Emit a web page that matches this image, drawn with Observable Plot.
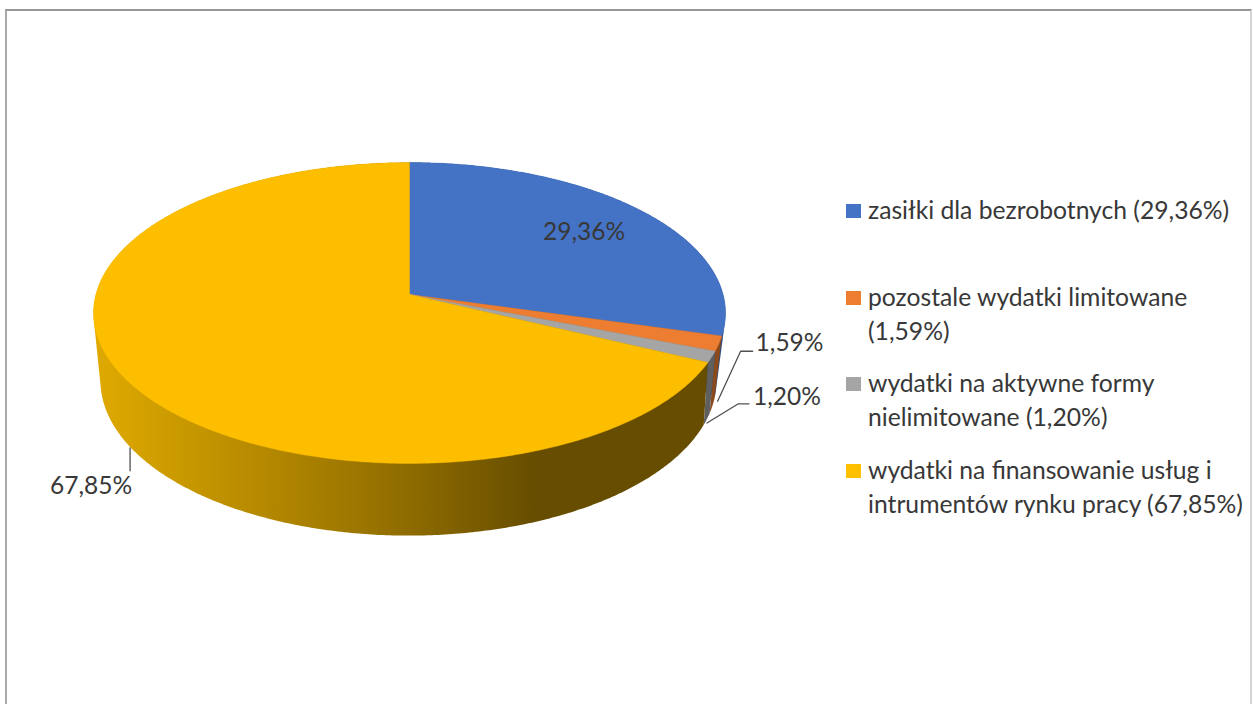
<!DOCTYPE html>
<html lang="pl">
<head>
<meta charset="utf-8">
<script src="https://cdn.jsdelivr.net/npm/d3@7"></script>
<script src="https://cdn.jsdelivr.net/npm/@observablehq/plot@0.6"></script>
<style>
  html, body { margin: 0; padding: 0; background: #fff; overflow: hidden; }
  #page { position: relative; width: 1253px; height: 704px; overflow: hidden; font-family: Lato, "Open Sans", sans-serif; }
  #frame { position: absolute; left: 5px; top: 9px; width: 1247px; height: 700px; box-sizing: border-box;
           border-left: 2px solid #a8a8a8; border-top: 2px solid #979797; border-right: 2px solid #d4d4d4; }
  #chart { position: absolute; left: 0; top: 0; }
  #chart svg { display: block; background: transparent; }
  #legend { position: absolute; left: 846px; top: 193px; width: 404px; color: #383838; font-size: 24.7px; line-height: 34px; }
  .item { display: flex; height: 86.67px; }
  .swatch { flex: none; width: 15px; height: 14px; margin: 11px 7px 0 0; }
  .name { width: 385px; }
</style>
</head>
<body>
<div id="page"><div id="frame"></div><div id="chart"></div><div id="legend"></div></div>
<script>
// ---- data ----
const categories = [
  "zasiłki dla bezrobotnych",
  "pozostale wydatki limitowane",
  "wydatki na aktywne formy nielimitowane",
  "wydatki na finansowanie usług i intrumentów rynku pracy"
];
const values = [29.36, 1.59, 1.20, 67.85];
const topColors = ["#4472C4", "#ED7D31", "#A5A5A5", "#FDBE00"];
const legendColors = ["#4472C4", "#ED7D31", "#A5A5A5", "#FFC000"];
const sideColors = ["#2c4a80", "#8a4a1c", "#5f5f5f", "url(#sideGold)"];
const goldStops = [[0, "#dfaa00"], [0.25, "#b98c00"], [0.51, "#8f6c00"], [0.72, "#664d00"], [1, "#664d00"]];

// ---- pie geometry: a circle seen in perspective, one rim for the top and one for the base ----
const topRim = {cx: 409, cy: 294, a: 313.6, b: 148.2, k: 0.1229, turn: 0};
const baseRim = {cx: 408, cy: 361, a: 305.7, b: 152.7, k: 0.1229, turn: -2.5 * Math.PI / 180};
const rim = (t, r, f = 1) => {
  const s = Math.sin(t + r.turn), c = Math.cos(t + r.turn), d = 1 + r.k * c;
  return [r.cx + f * r.a * s / d, r.cy - f * r.b * c / d];
};
const total = d3.sum(values);
const edges = d3.cumsum(values).map((v) => v / total * 2 * Math.PI);
const slices = values.map((v, i) => ({i, start: i ? edges[i - 1] : 0, end: edges[i]}));
const arc = ({start, end}, r) => [...d3.range(start, end, 0.01), end].map((t) => rim(t, r));
const topShape = (s) => [[topRim.cx, topRim.cy], ...arc(s, topRim), [topRim.cx, topRim.cy]];
const sideShape = (s) => {
  const hull = d3.polygonHull([...arc(s, topRim), ...arc(s, baseRim)]);
  return [...hull, hull[0]];
};
const pct = (v) => v.toFixed(2).replace(".", ",") + "%";
const mid = (s) => (s.start + s.end) / 2;

// callouts: offsets from the base-rim point at the middle of a slice
const callouts = [
  {i: 1, from: [5, -4], via: [28, -54], to: [40, -54], text: [43, -62]},
  {i: 2, from: [0, 4], via: [31, -15], to: [42, -15], text: [46, -22]},
  {i: 3, from: [-8, -7], via: [-8, -7], to: [-8, 16], text: [-6, 31]}
].map((c) => {
  const [x, y] = rim(mid(slices[c.i]), baseRim);
  const at = ([dx, dy]) => [x + dx, y + dy];
  return {...c, path: [c.from, c.via, c.to].map(at), label: at(c.text), value: values[c.i]};
});
const inner = rim(mid(slices[0]), topRim, 0.75);

const px = (d) => d[0], py = (d) => d[1];
const textColor = "#383838";
const labelStyle = {x: (d) => d.label[0], y: (d) => d.label[1], text: (d) => pct(d.value), fontSize: 24.5, fontFamily: "Lato", fill: textColor};
const plot = Plot.plot({
  width: 1253, height: 704, margin: 0,
  x: {domain: [0, 1253], range: [0, 1253], axis: null},
  y: {domain: [0, 704], range: [0, 704], axis: null},
  style: {background: "transparent"},
  marks: [
    () => {
      const defs = d3.create("svg:defs");
      const g = defs.append("linearGradient").attr("id", "sideGold").attr("x1", 0).attr("x2", 1).attr("y1", 0).attr("y2", 0);
      goldStops.forEach(([o, c]) => g.append("stop").attr("offset", o).attr("stop-color", c));
      return defs.node();
    },
    ...slices.map((s) => Plot.line(sideShape(s), {x: px, y: py, fill: sideColors[s.i], stroke: "none"})),
    ...slices.map((s) => Plot.line(topShape(s), {x: px, y: py, fill: topColors[s.i], stroke: topColors[s.i], strokeWidth: 0.4})),
    ...callouts.map((c) => Plot.line(c.path, {x: px, y: py, stroke: "#505050", strokeWidth: 1.3})),
    Plot.text([{label: inner, value: values[0]}], labelStyle),
    Plot.text(callouts.slice(0, 2), {...labelStyle, textAnchor: "start"}),
    Plot.text(callouts.slice(2), {...labelStyle, textAnchor: "end"})
  ]
});
document.getElementById("chart").append(plot);

const legend = d3.select("#legend");
const items = legend.selectAll(".item").data(categories).join("div").attr("class", "item");
items.append("div").attr("class", "swatch").style("background", (d, i) => legendColors[i]);
items.append("div").attr("class", "name").text((d, i) => `${d} (${pct(values[i])})`);
</script>
</body>
</html>
